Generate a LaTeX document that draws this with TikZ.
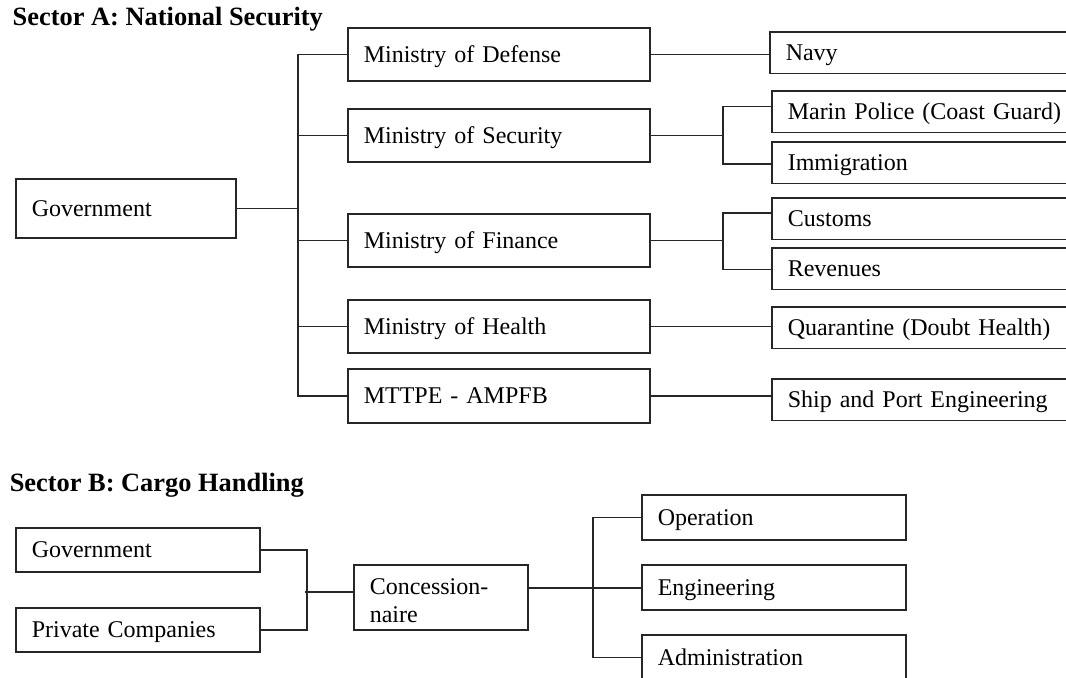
\documentclass[tikz,border=0pt]{standalone}
\usepackage{fontspec}
\setmainfont{Liberation Serif}
\usetikzlibrary{calc}

\begin{document}
\begin{tikzpicture}[x=0.5pt, y=-0.5pt,
  line width=0.75pt,
  conn/.style={draw=black!85},
  box/.style={draw=black!85, rectangle, anchor=north west, inner xsep=8pt, inner ysep=0pt,
    align=left, text height=7.9pt, text depth=0pt, font=\fontsize{12}{14}\selectfont},
  ministry/.style={box, text width=135pt, minimum height=26.5pt},
  leaf/.style={box, text width=144pt, minimum height=20.75pt},
  partner/.style={box, text width=106pt, minimum height=22pt},
  unit/.style={box, text width=116pt, minimum height=22.5pt},
  heading/.style={anchor=base west, inner sep=0pt, font=\fontsize{13.2}{15}\selectfont\bfseries}
]
\useasboundingbox (0,0) rectangle (1066,677);
\clip (0,0) rectangle (1066,677);

% ---------- Sector A ----------
\node[heading] (secA) at (12,25.5) {Sector A: National Security};

\node[box, text width=94pt, minimum height=29.5pt] (govA) at (15,178) {Government};

\node[ministry] (def) at (347,27)  {Ministry of Defense};
\node[ministry] (sec) at (347,108) {Ministry of Security};
\node[ministry] (fin) at (347,213) {Ministry of Finance};
\node[ministry] (hea) at (347,299) {Ministry of Health};
\node[ministry, minimum height=27pt] (mtt) at (347,368) {MTTPE - AMPFB};

\node[leaf] (navy)   at (769,31)  {Navy};
\node[leaf] (marin)  at (771,90)  {Marin Police (Coast Guard)};
\node[leaf] (imm)    at (771,141) {Immigration};
\node[leaf] (cust)   at (771,197) {Customs};
\node[leaf] (rev)    at (771,247) {Revenues};
\node[leaf] (quar)   at (771,306) {Quarantine (Doubt Health)};
\node[leaf] (ship)   at (771,378) {Ship and Port Engineering};

\coordinate (ja) at (298,0);
\coordinate (js) at (723,0);

\draw[conn] (govA.east) -- (govA.east -| ja);
\draw[conn] (def.west) -- (def.west -| ja) -- (mtt.west -| ja) -- (mtt.west);
\foreach \m in {sec,fin,hea} \draw[conn] (\m.west -| ja) -- (\m.west);

\draw[conn] (def.east) -- (def.east -| navy.west);

\draw[conn] (sec.east) -- (sec.east -| js);
\draw[conn] ($(marin.west)+(0,-5)$) -- ($(marin.west -| js)+(0,-5)$)
      -- ($(imm.west -| js)+(0,1.5)$) -- ($(imm.west)+(0,1.5)$);

\draw[conn] (fin.east) -- (fin.east -| js);
\draw[conn] ($(cust.west)+(0,-5.5)$) -- ($(cust.west -| js)+(0,-5.5)$)
      -- ($(rev.west -| js)+(0,1)$) -- ($(rev.west)+(0,1)$);

\draw[conn] (hea.east) -- (hea.east -| quar.west);
\draw[conn] (mtt.east) -- (mtt.east -| ship.west);

% ---------- Sector B ----------
\node[heading] (secB) at (9,491) {Sector B: Cargo Handling};

\node[partner] (govB) at (15,527) {Government};
\node[partner] (priv) at (15,607) {Private Companies};

\node[box, text width=71pt, minimum height=32.5pt, text depth=10.4pt] (conc) at (353,564)
  {Concession-\\naire};

\node[unit] (oper) at (641,494) {Operation};
\node[unit] (eng)  at (641,564) {Engineering};
\node[unit] (adm)  at (641,634) {Administration};

\coordinate (jb) at (307,0);
\coordinate (jc) at (593,0);

\draw[conn] (govB.east) -- (govB.east -| jb) -- (priv.east -| jb) -- (priv.east);
\draw[conn] ($(jb |- conc.west)+(-2,-5.5)$) -- ($(conc.west)+(0,-5.5)$);

\draw[conn] ($(conc.east)+(0,-9.5)$) -- ($(conc.east -| eng.west)+(0,-9.5)$);
\draw[conn] (oper.west) -- (oper.west -| jc) -- (adm.west -| jc) -- (adm.west);
\end{tikzpicture}
\end{document}
